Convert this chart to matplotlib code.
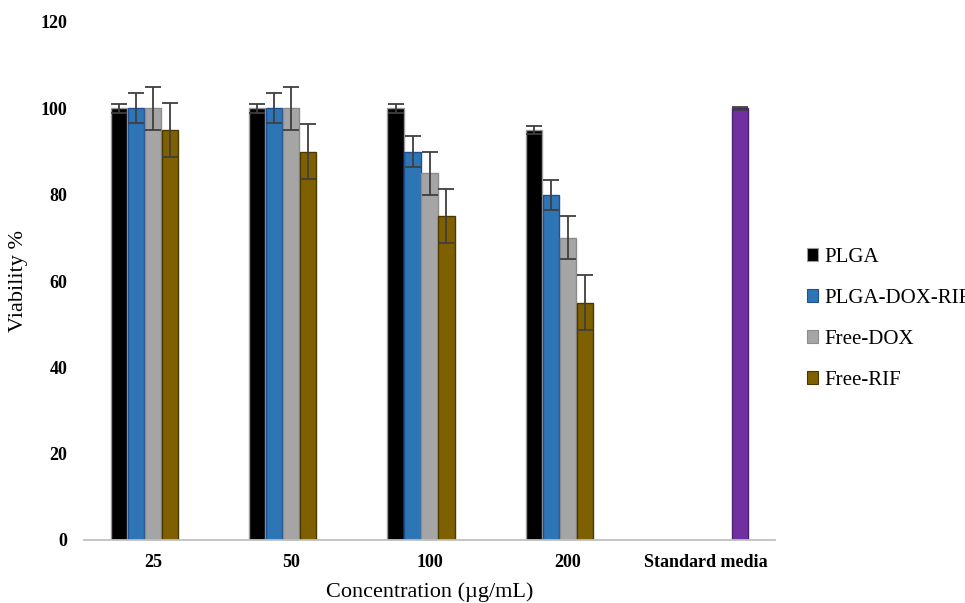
"""Cell viability bar chart: PLGA formulations vs free drugs at four concentrations."""
import numpy as np
import matplotlib
matplotlib.use("Agg")
import matplotlib.pyplot as plt

plt.rcParams["font.family"] = ["Liberation Serif", "DejaVu Serif"]

CATEGORIES = ["25", "50", "100", "200", "Standard media"]
SERIES = ["PLGA", "PLGA-DOX-RIF", "Free-DOX", "Free-RIF"]

# values for the four concentrations (first four categories)
plga = [100, 100, 100, 95]
plga_dox_rif = [100, 100, 90, 80]
free_dox = [100, 100, 85, 70]
free_rif = [95, 90, 75, 55]

plga_err = [1, 1, 1, 1]
plga_dox_rif_err = [3.5, 3.5, 3.5, 3.5]
free_dox_err = [5, 5, 5, 5]
free_rif_err = [6.3, 6.3, 6.3, 6.3]

# standard media control, only in last category
standard_media = 100
standard_media_err = 0.3

FACE = ["#000000", "#2E75B6", "#A5A5A5", "#7F6000"]
EDGE = ["#9a9a9a", "#1f4f96", "#8c8c8c", "#4a3800"]
PURPLE = "#7030A0"
PURPLE_EDGE = "#4b2470"
ERR_COLOR = "#3f3f3f"

fig = plt.figure(figsize=(9.65, 6.03), dpi=100)
ax = fig.add_axes([84 / 965, 63 / 603, 691 / 965, 518 / 603])

slot = 0.123
bar_w = 0.116
x = np.arange(4)
vals = [plga, plga_dox_rif, free_dox, free_rif]
errs = [plga_err, plga_dox_rif_err, free_dox_err, free_rif_err]
handles = []
for j in range(4):
    b = ax.bar(x + (j - 2) * slot, vals[j], width=bar_w, color=FACE[j],
               edgecolor=EDGE[j], linewidth=1.0, zorder=2,
               yerr=errs[j], capsize=5.5,
               error_kw=dict(ecolor=ERR_COLOR, elinewidth=1.3, capthick=1.3, zorder=3))
    handles.append(b)

ax.bar([4 + 2 * slot], [standard_media], width=bar_w, color=PURPLE,
       edgecolor=PURPLE_EDGE, linewidth=1.0, zorder=2,
       yerr=[standard_media_err], capsize=5.5,
       error_kw=dict(ecolor=ERR_COLOR, elinewidth=1.3, capthick=1.3, zorder=3))

ax.set_xlim(-0.5, 4.5)
ax.set_ylim(0, 120)
ax.set_yticks(range(0, 121, 20))
ax.set_xticks(range(5))
ax.set_xticklabels(CATEGORIES)
for lab in ax.get_xticklabels() + ax.get_yticklabels():
    lab.set_fontweight("bold")
    lab.set_fontsize(13)
ax.tick_params(axis="both", length=0)
ax.tick_params(axis="y", pad=12)
ax.tick_params(axis="x", pad=10)

for s in ["top", "right", "left"]:
    ax.spines[s].set_visible(False)
ax.spines["bottom"].set_color("#bfbfbf")
ax.spines["bottom"].set_linewidth(1.3)

ax.set_xlabel("Concentration (µg/mL)", fontsize=16, labelpad=8)
ax.set_ylabel("Viability %", fontsize=16, labelpad=9)

leg = fig.legend(handles, SERIES, loc="upper left", bbox_to_anchor=(807 / 965, 1 - 248 / 603),
                 frameon=False, fontsize=15, handlelength=0.55, handleheight=0.55,
                 handletextpad=0.3, labelspacing=1.05, borderaxespad=0, borderpad=0)
for h in leg.legend_handles:
    h.set_linewidth(0.8)

fig.savefig("out.png", dpi=100)
